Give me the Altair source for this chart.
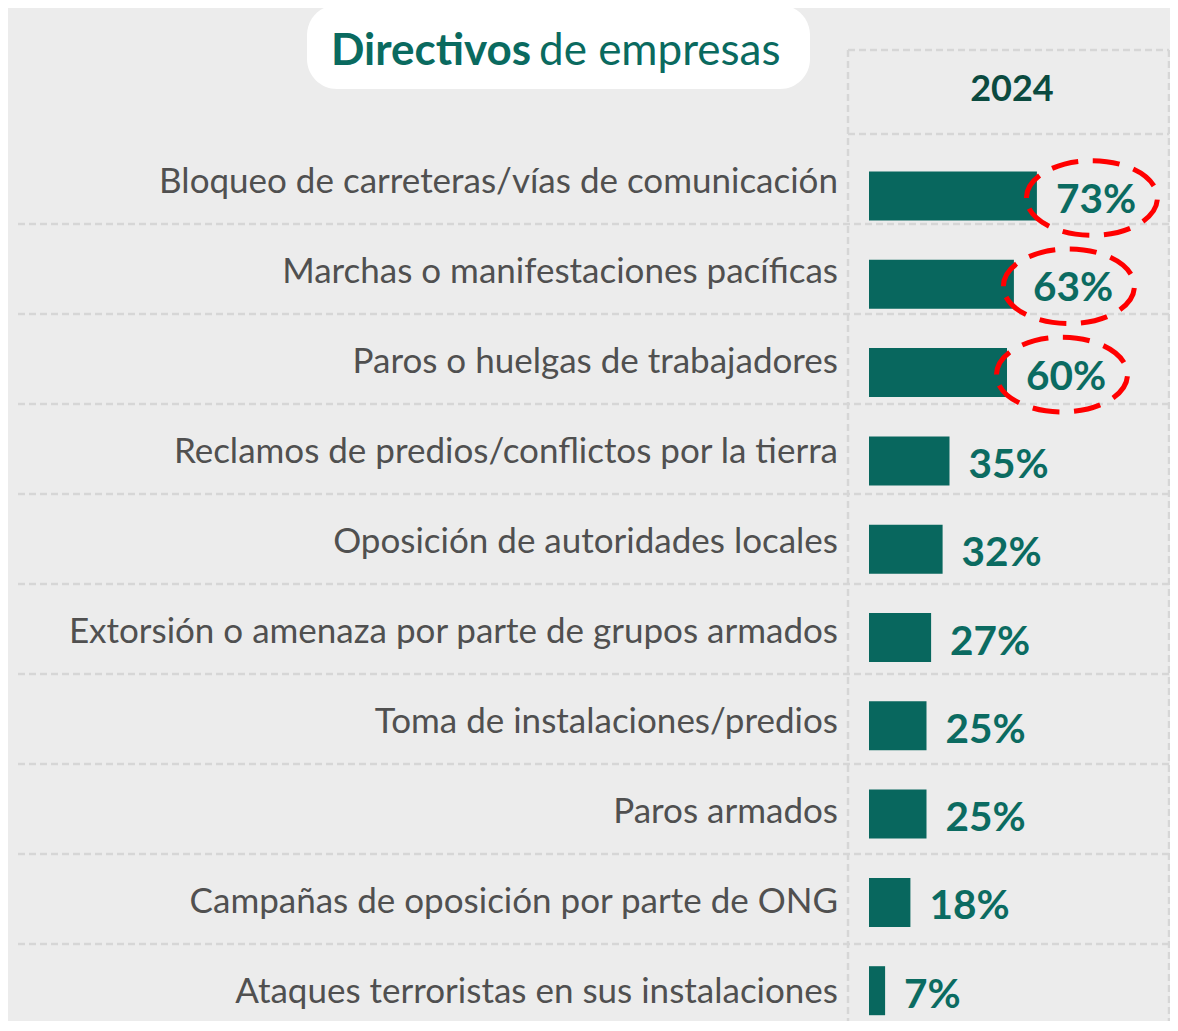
import altair as alt
import pandas as pd

categories = [
    "Bloqueo de carreteras/vías de comunicación",
    "Marchas o manifestaciones pacíficas",
    "Paros o huelgas de trabajadores",
    "Reclamos de predios/conflictos por la tierra",
    "Oposición de autoridades locales",
    "Extorsión o amenaza por parte de grupos armados",
    "Toma de instalaciones/predios",
    "Paros armados",
    "Campañas de oposición por parte de ONG",
    "Ataques terroristas en sus instalaciones",
]
values = [73, 63, 60, 35, 32, 27, 25, 25, 18, 7]
highlighted = [True, True, True, False, False, False, False, False, False, False]
year_label = "2024"
title_bold = "Directivos"
title_rest = "de empresas"

df = pd.DataFrame({"cat": categories, "val": values, "hl": highlighted})
df["lbl"] = df["val"].astype(str) + "%"
one = pd.DataFrame({"a": [0]})

FONT = "Lato"
TEAL = "#08675e"
GRID = "#d6d6d6"

label_scale = alt.Scale(domain=categories, range=[0, 900], paddingInner=0, paddingOuter=0)
bar_scale = alt.Scale(domain=categories, range=[17.85, 900.85], paddingInner=0, paddingOuter=0)
x_scale = alt.Scale(domain=[0, 130.87], nice=False, zero=True)

box = alt.Chart(one).mark_rect(cornerRadius=30, color="white").encode(
    x=alt.value(-562), x2=alt.value(-59), y=alt.value(-129), y2=alt.value(-45)
)
t1 = alt.Chart(one).mark_text(
    text=title_bold, font=FONT, fontSize=44, fontWeight="bold", color="#0a6a5f",
    align="left", baseline="alphabetic"
).encode(x=alt.value(-538), y=alt.value(-69))
t2 = alt.Chart(one).mark_text(
    text=title_rest, font=FONT, fontSize=44, fontWeight="normal", color="#0a6a5f",
    align="left", baseline="alphabetic"
).encode(x=alt.value(-330), y=alt.value(-69))

line_style = dict(color=GRID, strokeWidth=2.5, strokeDash=[7, 4])
top_line = alt.Chart(one).mark_rule(**line_style).encode(
    x=alt.value(-21), x2=alt.value(300), y=alt.value(-84)
)
head_line = alt.Chart(one).mark_rule(**line_style).encode(
    x=alt.value(-21), x2=alt.value(300), y=alt.value(0)
)
v1 = alt.Chart(one).mark_rule(**line_style).encode(
    x=alt.value(-21), y=alt.value(-84), y2=alt.value(900)
)
v2 = alt.Chart(one).mark_rule(**line_style).encode(
    x=alt.value(300), y=alt.value(-84), y2=alt.value(900)
)
year = alt.Chart(one).mark_text(
    text=year_label, font=FONT, fontSize=36, fontWeight="bold", color="#0b4a3f",
    align="center", baseline="middle"
).encode(x=alt.value(143), y=alt.value(-44))

seps = alt.Chart(df.iloc[:-1]).mark_rule(**line_style).encode(
    y=alt.Y("cat:N", scale=label_scale, bandPosition=1, axis=None),
    x=alt.value(-851), x2=alt.value(300),
)

cat_text = alt.Chart(df).mark_text(
    font=FONT, fontSize=35, color="#505050", align="right", baseline="alphabetic", dy=13.5
).encode(
    y=alt.Y("cat:N", scale=label_scale, axis=None),
    x=alt.value(-31),
    text="cat:N",
)

bars = alt.Chart(df).mark_bar(size=49, color=TEAL).encode(
    y=alt.Y("cat:N", scale=bar_scale, axis=None),
    x=alt.X("val:Q", scale=x_scale, axis=None),
)
pct = alt.Chart(df).mark_text(
    font=FONT, fontSize=40.5, fontWeight="bold", color="#0b6b61",
    align="left", baseline="alphabetic", dx=19, dy=17
).encode(
    y=alt.Y("cat:N", scale=bar_scale, axis=None),
    x=alt.X("val:Q", scale=x_scale, axis=None),
    text="lbl:N",
)
ellipse_path = "M -1 0 A 1 0.57 0 1 1 1 0 A 1 0.57 0 1 1 -1 0 Z"
ell = alt.Chart(df).transform_filter("datum.hl").mark_point(
    shape=ellipse_path, size=17161, filled=False, stroke="#ff0000", strokeWidth=5,
    strokeDash=[27, 14.5], opacity=1, xOffset=55, yOffset=2
).encode(
    y=alt.Y("cat:N", scale=bar_scale, axis=None),
    x=alt.X("val:Q", scale=x_scale, axis=None),
)

chart = alt.layer(
    box, t1, t2, top_line, head_line, v1, v2, year, seps, cat_text, bars, pct, ell
).resolve_scale(y="independent").properties(
    width=301, height=887,
    autosize=alt.AutoSizeParams(type="none"),
    padding={"left": 861, "top": 126, "right": 0, "bottom": 0},
    background="#ececec",
).configure_view(stroke=None)

chart.save("out.html", embed_options={"renderer": "svg", "actions": False})
